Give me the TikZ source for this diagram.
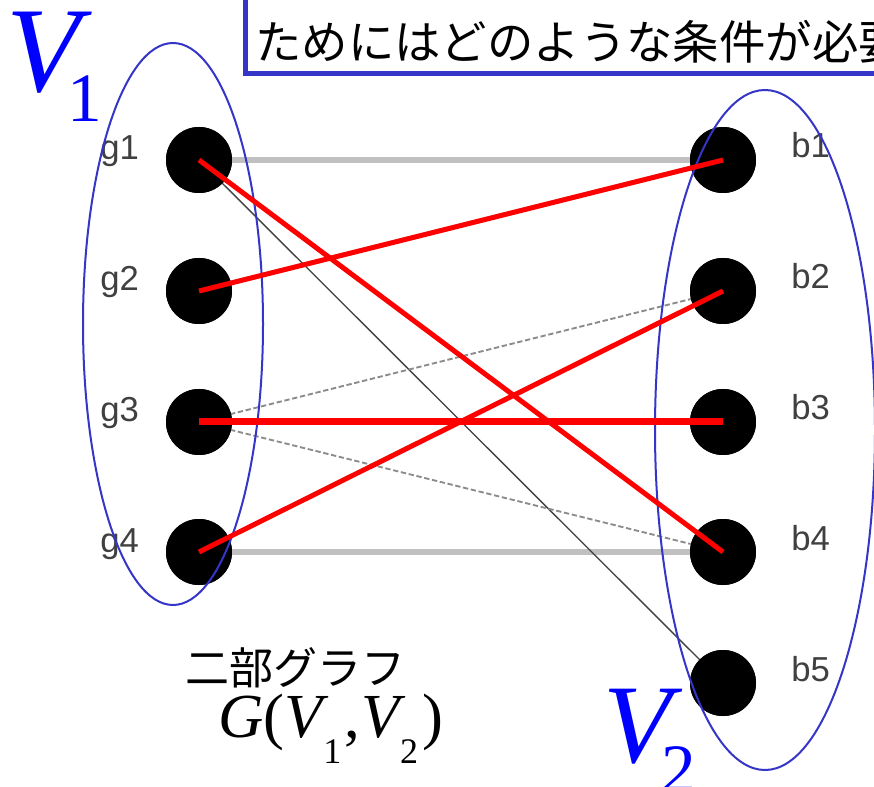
\documentclass[tikz,border=0pt]{standalone}
\usepackage{fontspec}
\setmainfont{Liberation Serif}
\setsansfont{Liberation Sans}
\newfontfamily\jpfont{Noto Sans CJK JP}
\definecolor{ellblue}{HTML}{3535C8}
\definecolor{vblue}{HTML}{0000FF}
\definecolor{lightedge}{HTML}{C0C0C0}
\definecolor{thinedge}{HTML}{404040}
\definecolor{dashedge}{HTML}{8C8C8C}
\definecolor{rededge}{HTML}{FF0000}
\begin{document}
\begin{tikzpicture}[x=0.75pt,y=-0.75pt,
  vtx/.style={circle,fill=black,minimum size=49.5pt,inner sep=0pt},
  lbl/.style={font=\sffamily\fontsize{26}{26}\selectfont,text=black!75,anchor=base west,inner sep=0pt},
  grayedge/.style={draw=lightedge,line width=4.8pt},
  thinblack/.style={draw=thinedge,line width=1pt},
  thingray/.style={draw=dashedge,line width=1.4pt,dash pattern=on 4pt off 2pt},
  redline/.style={draw=rededge,line width=3.75pt},
  redthick/.style={draw=rededge,line width=5.25pt},
  setell/.style={draw=ellblue,line width=1.5pt},
  biglbl/.style={text=vblue,anchor=base west,inner sep=0pt}]
\useasboundingbox (0,0) rectangle (874,787);
\clip (0,0) rectangle (874,787);
\fill[white] (0,0) rectangle (874,787);

% top box (cropped)
\draw[draw=ellblue,line width=3.75pt,fill=white] (245,-40) rectangle (920,74);
\node[anchor=base west,inner sep=0pt,font=\jpfont\fontsize{34.8}{34.8}\selectfont] (question) at (255,60) {ためにはどのような条件が必要};

% vertices
\node[vtx] (g1) at (199,160) {};
\node[vtx] (g2) at (199,291) {};
\node[vtx] (g3) at (199,422) {};
\node[vtx] (g4) at (199,552) {};
\node[vtx] (b1) at (723,160) {};
\node[vtx] (b2) at (723,291) {};
\node[vtx] (b3) at (723,422) {};
\node[vtx] (b4) at (723,552) {};
\node[vtx] (b5) at (723,683) {};

% non-matching edges (behind vertices)
\path[grayedge] (g1.center) -- (b1.center);
\path[grayedge] (g4.center) -- (b4.center);
\path[thinblack] (g1.center) -- (b5.center);
\path[thingray] (g3.center) -- (b2.center);
\path[thingray] (g3.center) -- (b4.center);

% redraw vertices on top of the gray edges
\foreach \v in {g1,g2,g3,g4,b1,b2,b3,b4,b5}
  \fill[black] (\v) circle [radius=33];

% labels
\node[lbl] (lg1) at (100,160) {g1};
\node[lbl] (lg2) at (100,291) {g2};
\node[lbl] (lg3) at (100,422) {g3};
\node[lbl] (lg4) at (100,552) {g4};
\node[lbl] (lb1) at (791,158) {b1};
\node[lbl] (lb2) at (791,289) {b2};
\node[lbl] (lb3) at (791,420) {b3};
\node[lbl] (lb4) at (791,550) {b4};
\node[lbl] (lb5) at (791,681) {b5};

% set ellipses
\draw[setell] (173,324) ellipse [x radius=90, y radius=281];
\draw[setell] (765,430) ellipse [x radius=110, y radius=340];

% matching edges (red)
\path[redline] (g1.center) -- (b4.center);
\path[redline] (g2.center) -- (b1.center);
\path[redthick] (g3.center) -- (b3.center);
\path[redline] (g4.center) -- (b2.center);

% set labels
\node[biglbl] (V1) at (6,92) {{\fontsize{91}{91}\selectfont\itshape V}\kern-10pt\raisebox{-22.5pt}{\fontsize{52}{52}\selectfont 1}};
\node[biglbl] (V2) at (603,762) {{\fontsize{84}{84}\selectfont\itshape V}\kern-8pt\raisebox{-22.5pt}{\fontsize{52}{52}\selectfont 2}};

% caption
\node[anchor=base west,inner sep=0pt,font=\jpfont\fontsize{33}{33}\selectfont] (cap) at (185,684) {二部グラフ};
\node[anchor=base west,inner sep=0pt,font=\fontsize{47}{47}\selectfont] (gv) at (218,737)
  {\textit{G}(\textit{V}\kern-4pt\raisebox{-20pt}{\fontsize{27}{27}\selectfont 1}\kern2pt,\kern1pt\textit{V}\kern-4pt\raisebox{-20pt}{\fontsize{27}{27}\selectfont 2}\kern3pt)};
\end{tikzpicture}
\end{document}
